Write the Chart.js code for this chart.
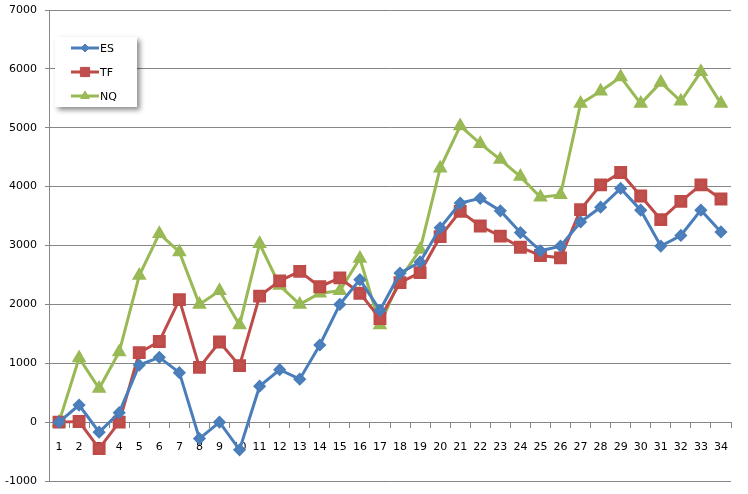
<!DOCTYPE html>
<html>
<head>
<meta charset="utf-8">
<script src="https://cdn.jsdelivr.net/npm/chart.js@4/dist/chart.umd.min.js"></script>
<style>
  body { margin: 0; background: #fff; }
  #wrap { width: 748px; height: 494px; }
</style>
</head>
<body>
<div id="wrap"><canvas id="myChart" width="748" height="494"></canvas></div>
<script>
// data
const days = [1,2,3,4,5,6,7,8,9,10,11,12,13,14,15,16,17,18,19,20,21,22,23,24,25,26,27,28,29,30,31,32,33,34];

const esVals = [0,290,-170,160,970,1100,840,-280,0,-470,610,890,730,1310,2000,2420,1900,2530,2720,3300,3720,3800,3590,3220,2910,2990,3400,3650,3970,3600,2990,3170,3600,3230];
const tfVals = [0,10,-450,0,1180,1370,2080,930,1360,960,2140,2400,2560,2300,2450,2190,1760,2370,2540,3150,3580,3330,3160,2970,2830,2790,3610,4030,4240,3840,3440,3750,4030,3790];
const nqVals = [0,1090,570,1190,2490,3200,2890,2000,2230,1650,3030,2320,2000,2190,2230,2780,1650,2430,2930,4310,5030,4730,4460,4170,3820,3860,5410,5620,5860,5410,5770,5450,5950,5410];

const yTicks = [-1000,0,1000,2000,3000,4000,5000,6000,7000];

const FONT = "'DejaVu Sans', Verdana, sans-serif";

// legend box drawn inside the plot, with a soft shadow like the original
const boxLegend = {
  id: "boxLegend",
  afterDraw(chart) {
    const ctx = chart.ctx;
    const x = 55, y = 37, w = 82, h = 70;
    ctx.save();
    ctx.shadowColor = "rgba(0,0,0,0.45)";
    ctx.shadowBlur = 5;
    ctx.shadowOffsetX = 3;
    ctx.shadowOffsetY = 3;
    ctx.fillStyle = "#fff";
    ctx.fillRect(x, y, w, h);
    ctx.restore();

    ctx.save();
    chart.data.datasets.forEach((ds, i) => {
      const ly = 48 + i * 24;
      ctx.strokeStyle = ds.borderColor;
      ctx.lineWidth = 3;
      ctx.beginPath();
      ctx.moveTo(71, ly);
      ctx.lineTo(99, ly);
      ctx.stroke();
      ctx.fillStyle = ds.pointBackgroundColor;
      ctx.strokeStyle = ds.pointBorderColor;
      ctx.lineWidth = 1;
      Chart.helpers.drawPoint(ctx, {
        pointStyle: ds.pointStyle,
        radius: ds.pointRadius - 0.5,
        borderWidth: 1,
        rotation: 0
      }, 85, ly);
      ctx.fillStyle = "#000";
      ctx.font = "11px " + FONT;
      ctx.textBaseline = "middle";
      ctx.fillText(ds.label, 100, ly + 1);
    });
    ctx.restore();
  }
};

const data = {
  labels: days,
  datasets: [
    {
      label: "ES",
      data: esVals,
      borderColor: "#4A7EBB",
      backgroundColor: "#4F81BD",
      pointBackgroundColor: "#4F81BD",
      pointBorderColor: "#4A7EBB",
      pointStyle: "rectRot",
      pointRadius: 4.5,
      borderWidth: 3,
    },
    {
      label: "TF",
      data: tfVals,
      borderColor: "#BE4B48",
      backgroundColor: "#C0504D",
      pointBackgroundColor: "#C0504D",
      pointBorderColor: "#BE4B48",
      pointStyle: "rect",
      pointRadius: 7,
      borderWidth: 3,
    },
    {
      label: "NQ",
      data: nqVals,
      borderColor: "#98B954",
      backgroundColor: "#9BBB59",
      pointBackgroundColor: "#9BBB59",
      pointBorderColor: "#98B954",
      pointStyle: "triangle",
      pointRadius: 5.5,
      borderWidth: 3,
    },
  ],
};

const config = {
  type: "line",
  data: data,
  options: {
    responsive: false,
    animation: false,
    layout: { padding: { top: 10, right: 17, bottom: 13, left: 3 } },
    elements: { line: { tension: 0 } },
    plugins: {
      legend: { display: false },
      tooltip: { enabled: false },
    },
    scales: {
      x: {
        type: "category",
        position: { y: 0 },
        offset: true,
        grid: {
          offset: true,
          drawOnChartArea: false,
          drawTicks: true,
          tickLength: 5,
          color: "#868686",
        },
        border: { color: "#868686", width: 1 },
        ticks: {
          autoSkip: false,
          maxRotation: 0,
          padding: 13,
          color: "#000",
          font: { family: FONT, size: 11 },
        },
      },
      y: {
        min: -1000,
        max: 7000,
        afterBuildTicks: (scale) => {
          scale.ticks = yTicks.map((v) => ({ value: v }));
        },
        afterFit: (scale) => {
          scale.width = 46;
        },
        grid: {
          color: "#868686",
          tickLength: 12,
          // only the 4px next to the axis is drawn, the rest is label gap
          tickBorderDash: [0, 8, 4, 100],
        },
        border: { color: "#868686", width: 1 },
        ticks: {
          padding: 0,
          color: "#000",
          font: { family: FONT, size: 11 },
          callback: (v) => String(v),
        },
      },
    },
  },
  plugins: [boxLegend],
};

myChart = new Chart("myChart", config);
</script>
</body>
</html>
